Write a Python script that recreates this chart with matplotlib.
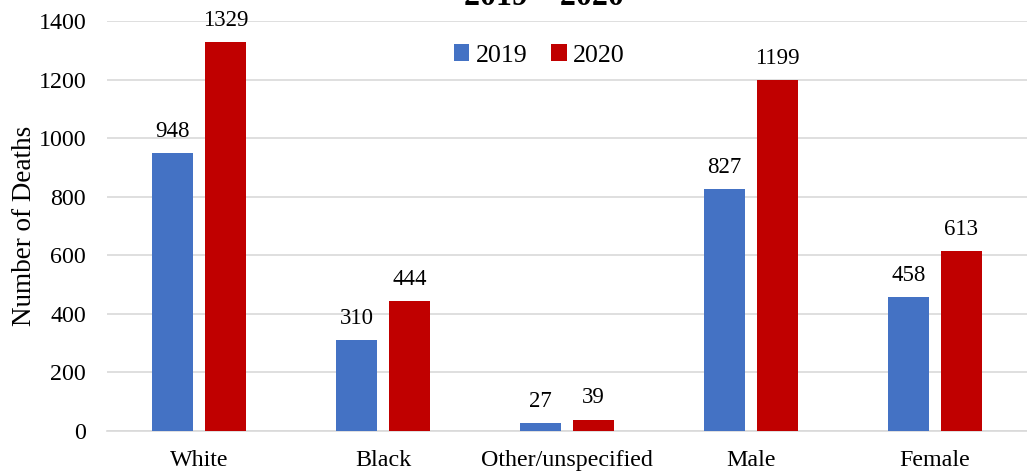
import numpy as np
import matplotlib.pyplot as plt

# deaths by group, 2019 vs 2020
categories = ["White", "Black", "Other/unspecified", "Male", "Female"]
deaths_2019 = [948, 310, 27, 827, 458]
deaths_2020 = [1329, 444, 39, 1199, 613]
yticks = [0, 200, 400, 600, 800, 1000, 1200, 1400]

plt.rcParams['font.family'] = ['Liberation Serif', 'DejaVu Serif']

fig = plt.figure(figsize=(10.27, 4.72), dpi=100)
ax = fig.add_axes([0.1042, 0.0869, 0.8958, 0.8686])

x = np.arange(len(categories))
w = 0.223
off = 0.144
b1 = ax.bar(x - off, deaths_2019, w, color="#4472C4", label="2019", zorder=3)
b2 = ax.bar(x + off, deaths_2020, w, color="#C00000", label="2020", zorder=3)

for bars, vals in ((b1, deaths_2019), (b2, deaths_2020)):
    for rect, v in zip(bars, vals):
        ax.annotate(str(v), (rect.get_x() + rect.get_width() / 2, v),
                    xytext=(0, 8), textcoords="offset points",
                    ha="center", va="bottom", fontsize=16.5)

ax.set_xlim(-0.5, len(categories) - 0.5)
ax.set_ylim(0, 1400)
ax.set_yticks(yticks)
ax.set_xticks(x)
ax.set_xticklabels(categories)
ax.tick_params(axis="both", length=0, labelsize=17.3)
ax.tick_params(axis="y", pad=15)
ax.tick_params(axis="x", pad=14)
ax.yaxis.grid(True, color="#d9d9d9", linewidth=1.2, zorder=0)
for s in ("top", "right", "left"):
    ax.spines[s].set_visible(False)
ax.spines["bottom"].set_color("#d9d9d9")
ax.spines["bottom"].set_linewidth(1.2)
ax.set_ylabel("Number of Deaths", fontsize=19.5, labelpad=1)

fig.text(0.53, 1.005, "2019 – 2020", ha="center", va="center",
         fontsize=23, fontweight="bold")

ax.legend(loc="upper center", bbox_to_anchor=(0.47, 1.0), ncol=2, frameon=False,
          fontsize=18.7, handlelength=0.6, handleheight=0.6, handletextpad=0.25,
          columnspacing=0.9)

fig.savefig("out.png", dpi=100)
